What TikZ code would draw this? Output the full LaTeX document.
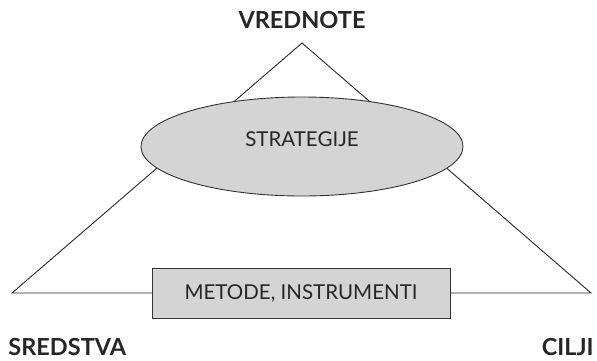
\documentclass[tikz,border=0pt]{standalone}
\usepackage{fontspec}
\setmainfont{Lato}
\usetikzlibrary{shapes.geometric}

\begin{document}
\begin{tikzpicture}[x=1pt, y=-1pt, line width=0.9pt,
  corner/.style={font=\fontsize{23.5}{23.5}\selectfont\bfseries, text=black!85, inner sep=0pt, anchor=base},
  inner/.style={font=\fontsize{20.5}{20.5}\selectfont, text=black!85, draw=black!80, fill=black!17}]

\useasboundingbox (0,0) rectangle (597,360);

% triangle
\coordinate (apex) at (302,43);
\coordinate (bl) at (12,293);
\coordinate (br) at (591,293);
\draw[black!85] (apex) -- (bl) -- (br) -- cycle;

% inside
\node[inner, ellipse, minimum width=322, minimum height=99, inner sep=0pt] (strat) at (302,146.5) {};
\node[font=\fontsize{20.5}{20.5}\selectfont, text=black!85] (stratlbl) at (302,139) {STRATEGIJE};
\node[inner, rectangle, minimum width=298, minimum height=50, inner sep=0pt] (metode) at (301,293) {METODE, INSTRUMENTI};

% corners
\node[corner] (vred) at (302,28) {VREDNOTE};
\node[corner, anchor=base west] (sred) at (8,355) {SREDSTVA};
\node[corner, anchor=base east] (cilj) at (594,355) {CILJI};

\end{tikzpicture}
\end{document}
